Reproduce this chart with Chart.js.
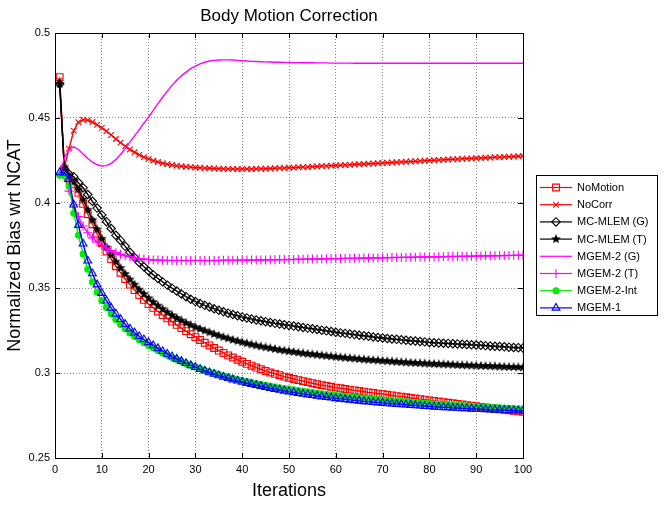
<!DOCTYPE html>
<html>
<head>
<meta charset="utf-8">
<script src="https://cdn.jsdelivr.net/npm/chart.js@4.4.1/dist/chart.umd.min.js"></script>
<style>
  html, body { margin: 0; padding: 0; background: #fff; }
  #wrap { width: 664px; height: 505px; }
</style>
</head>
<body>
<div id="wrap"><canvas id="c" width="664" height="505"></canvas></div>
<script>
// === Data ===
const iterations = [1,2,3,4,5,6,7,8,9,10,11,12,13,14,15,16,17,18,19,20,
  21,22,23,24,25,26,27,28,29,30,31,32,33,34,35,36,37,38,39,40,
  41,42,43,44,45,46,47,48,49,50,51,52,53,54,55,56,57,58,59,60,
  61,62,63,64,65,66,67,68,69,70,71,72,73,74,75,76,77,78,79,80,
  81,82,83,84,85,86,87,88,89,90,91,92,93,94,95,96,97,98,99,100];

const noMotion = [0.4740,0.4190,0.4155,0.4110,0.4060,0.3995,0.3935,0.3875,0.3820,0.3765,
  0.3715,0.3670,0.3628,0.3590,0.3553,0.3520,0.3488,0.3458,0.3430,0.3405,
  0.3383,0.3362,0.3341,0.3321,0.3302,0.3283,0.3264,0.3246,0.3228,0.3211,
  0.3194,0.3178,0.3162,0.3147,0.3132,0.3118,0.3104,0.3091,0.3078,0.3066,
  0.3054,0.3043,0.3032,0.3022,0.3012,0.3003,0.2995,0.2987,0.2979,0.2972,
  0.2965,0.2958,0.2952,0.2946,0.2940,0.2934,0.2929,0.2924,0.2919,0.2914,
  0.2910,0.2906,0.2902,0.2898,0.2894,0.2890,0.2886,0.2883,0.2879,0.2876,
  0.2872,0.2868,0.2864,0.2861,0.2857,0.2853,0.2850,0.2846,0.2843,0.2839,
  0.2836,0.2832,0.2829,0.2825,0.2822,0.2818,0.2815,0.2811,0.2808,0.2805,
  0.2801,0.2798,0.2794,0.2791,0.2787,0.2784,0.2781,0.2777,0.2774,0.2771];

const noCorr = [0.4720,0.4210,0.4320,0.4425,0.4475,0.4490,0.4487,0.4476,0.4460,0.4442,
  0.4422,0.4400,0.4377,0.4355,0.4334,0.4315,0.4298,0.4283,0.4270,0.4259,
  0.4249,0.4241,0.4234,0.4228,0.4223,0.4219,0.4216,0.4213,0.4211,0.4209,
  0.4207,0.4205,0.4204,0.4203,0.4202,0.4201,0.4200,0.4200,0.4200,0.4200,
  0.4200,0.4200,0.4201,0.4201,0.4202,0.4203,0.4204,0.4205,0.4206,0.4207,
  0.4208,0.4210,0.4211,0.4212,0.4214,0.4215,0.4217,0.4218,0.4220,0.4221,
  0.4222,0.4224,0.4225,0.4227,0.4228,0.4229,0.4231,0.4232,0.4234,0.4235,
  0.4237,0.4238,0.4240,0.4241,0.4243,0.4244,0.4246,0.4247,0.4249,0.4250,
  0.4251,0.4253,0.4254,0.4256,0.4257,0.4258,0.4260,0.4261,0.4262,0.4264,
  0.4265,0.4266,0.4267,0.4269,0.4270,0.4271,0.4272,0.4273,0.4275,0.4276];

const mcMlemG = [0.4700,0.4200,0.4170,0.4155,0.4120,0.4090,0.4050,0.4010,0.3970,0.3930,
  0.3890,0.3850,0.3810,0.3780,0.3745,0.3710,0.3680,0.3650,0.3625,0.3600,
  0.3577,0.3556,0.3536,0.3517,0.3499,0.3482,0.3465,0.3449,0.3434,0.3420,
  0.3409,0.3398,0.3388,0.3378,0.3369,0.3360,0.3352,0.3344,0.3337,0.3330,
  0.3324,0.3318,0.3312,0.3307,0.3302,0.3297,0.3292,0.3288,0.3284,0.3280,
  0.3276,0.3272,0.3268,0.3264,0.3260,0.3256,0.3252,0.3248,0.3244,0.3240,
  0.3236,0.3233,0.3229,0.3226,0.3222,0.3219,0.3216,0.3212,0.3209,0.3206,
  0.3203,0.3200,0.3198,0.3195,0.3193,0.3190,0.3188,0.3185,0.3183,0.3180,
  0.3178,0.3177,0.3175,0.3174,0.3172,0.3171,0.3169,0.3168,0.3166,0.3165,
  0.3163,0.3161,0.3159,0.3157,0.3156,0.3154,0.3152,0.3150,0.3149,0.3147];

const mcMlemT = [0.4700,0.4210,0.4160,0.4125,0.4080,0.4020,0.3960,0.3900,0.3845,0.3790,
  0.3740,0.3695,0.3655,0.3618,0.3583,0.3550,0.3520,0.3490,0.3465,0.3440,
  0.3417,0.3396,0.3376,0.3357,0.3340,0.3324,0.3309,0.3295,0.3282,0.3270,
  0.3259,0.3249,0.3239,0.3229,0.3220,0.3211,0.3203,0.3195,0.3188,0.3181,
  0.3174,0.3168,0.3162,0.3156,0.3151,0.3146,0.3141,0.3136,0.3132,0.3128,
  0.3124,0.3120,0.3116,0.3113,0.3110,0.3107,0.3104,0.3101,0.3098,0.3095,
  0.3092,0.3090,0.3087,0.3085,0.3082,0.3080,0.3078,0.3076,0.3074,0.3072,
  0.3070,0.3068,0.3066,0.3064,0.3062,0.3061,0.3059,0.3058,0.3056,0.3055,
  0.3054,0.3052,0.3051,0.3050,0.3049,0.3047,0.3046,0.3045,0.3044,0.3043,
  0.3042,0.3041,0.3040,0.3039,0.3038,0.3037,0.3036,0.3035,0.3034,0.3033];

const mgem2G = [0.4165,0.4265,0.4315,0.4330,0.4315,0.4288,0.4262,0.4240,0.4225,0.4218,
  0.4220,0.4233,0.4255,0.4285,0.4320,0.4358,0.4395,0.4432,0.4470,0.4506,
  0.4545,0.4585,0.4622,0.4658,0.4692,0.4722,0.4748,0.4770,0.4790,0.4805,
  0.4818,0.4828,0.4835,0.4839,0.4841,0.4842,0.4842,0.4841,0.4839,0.4837,
  0.4835,0.4833,0.4832,0.4831,0.4830,0.4829,0.4828,0.4828,0.4827,0.4827,
  0.4826,0.4826,0.4825,0.4825,0.4825,0.4824,0.4824,0.4824,0.4823,0.4823,
  0.4823,0.4823,0.4823,0.4822,0.4822,0.4822,0.4822,0.4822,0.4822,0.4822,
  0.4822,0.4822,0.4822,0.4822,0.4822,0.4822,0.4822,0.4822,0.4822,0.4822,
  0.4822,0.4822,0.4822,0.4822,0.4822,0.4822,0.4822,0.4822,0.4822,0.4822,
  0.4822,0.4822,0.4822,0.4822,0.4822,0.4822,0.4822,0.4822,0.4822,0.4822];

const mgem2T = [0.4165,0.4150,0.4070,0.3990,0.3920,0.3865,0.3825,0.3795,0.3770,0.3750,
  0.3734,0.3720,0.3708,0.3698,0.3690,0.3683,0.3677,0.3673,0.3670,0.3667,
  0.3665,0.3664,0.3663,0.3662,0.3662,0.3662,0.3662,0.3662,0.3662,0.3662,
  0.3662,0.3662,0.3662,0.3662,0.3662,0.3663,0.3663,0.3663,0.3663,0.3664,
  0.3664,0.3664,0.3665,0.3665,0.3665,0.3666,0.3666,0.3667,0.3667,0.3668,
  0.3668,0.3669,0.3669,0.3670,0.3670,0.3671,0.3671,0.3672,0.3672,0.3673,
  0.3673,0.3674,0.3674,0.3675,0.3675,0.3676,0.3676,0.3677,0.3677,0.3678,
  0.3678,0.3679,0.3679,0.3680,0.3680,0.3681,0.3681,0.3682,0.3682,0.3683,
  0.3683,0.3684,0.3684,0.3685,0.3685,0.3686,0.3686,0.3687,0.3687,0.3688,
  0.3688,0.3689,0.3689,0.3690,0.3690,0.3691,0.3691,0.3692,0.3692,0.3693];

const mgem2Int = [0.4165,0.4160,0.4100,0.3940,0.3810,0.3700,0.3610,0.3535,0.3475,0.3425,
  0.3385,0.3348,0.3315,0.3286,0.3260,0.3236,0.3214,0.3195,0.3178,0.3162,
  0.3147,0.3132,0.3118,0.3104,0.3091,0.3079,0.3067,0.3056,0.3045,0.3035,
  0.3025,0.3016,0.3007,0.2999,0.2991,0.2983,0.2976,0.2969,0.2962,0.2956,
  0.2950,0.2944,0.2938,0.2933,0.2928,0.2923,0.2918,0.2913,0.2909,0.2905,
  0.2901,0.2897,0.2893,0.2889,0.2885,0.2882,0.2878,0.2875,0.2872,0.2869,
  0.2866,0.2863,0.2860,0.2857,0.2854,0.2852,0.2849,0.2847,0.2844,0.2842,
  0.2839,0.2837,0.2835,0.2833,0.2830,0.2828,0.2826,0.2824,0.2822,0.2820,
  0.2818,0.2816,0.2815,0.2813,0.2811,0.2809,0.2808,0.2806,0.2804,0.2803,
  0.2801,0.2800,0.2798,0.2797,0.2795,0.2794,0.2792,0.2791,0.2790,0.2788];

const mgem1 = [0.4180,0.4178,0.4140,0.3990,0.3870,0.3760,0.3660,0.3585,0.3520,0.3470,
  0.3425,0.3383,0.3348,0.3316,0.3287,0.3260,0.3237,0.3216,0.3197,0.3180,
  0.3162,0.3145,0.3128,0.3112,0.3097,0.3083,0.3070,0.3057,0.3045,0.3034,
  0.3023,0.3013,0.3003,0.2994,0.2985,0.2977,0.2969,0.2961,0.2954,0.2947,
  0.2940,0.2934,0.2928,0.2922,0.2916,0.2910,0.2905,0.2900,0.2895,0.2890,
  0.2886,0.2881,0.2877,0.2873,0.2869,0.2865,0.2861,0.2858,0.2854,0.2851,
  0.2848,0.2845,0.2842,0.2839,0.2836,0.2833,0.2831,0.2828,0.2826,0.2824,
  0.2821,0.2819,0.2817,0.2815,0.2813,0.2811,0.2809,0.2807,0.2805,0.2803,
  0.2801,0.2800,0.2798,0.2797,0.2795,0.2794,0.2792,0.2791,0.2789,0.2788,
  0.2787,0.2786,0.2784,0.2783,0.2782,0.2781,0.2780,0.2779,0.2778,0.2777];

const xTicks = [0,10,20,30,40,50,60,70,80,90,100];
const yTicks = [0.25,0.3,0.35,0.4,0.45,0.5];
const yTickLabels = ['0.25','0.3','0.35','0.4','0.45','0.5'];

// === Markers ===
function makeStar(size, color) {
    const cv = document.createElement('canvas');
    cv.width = size; cv.height = size;
    const c = cv.getContext('2d');
    const cx = size / 2, cy = size / 2, R = size / 2, r = R * 0.45;
    c.beginPath();
    for (let i = 0; i < 10; i++) {
        const rad = (i % 2 === 0) ? R : r;
        const a = -Math.PI / 2 + i * Math.PI / 5;
        const px = cx + rad * Math.cos(a), py = cy + rad * Math.sin(a);
        if (i === 0) c.moveTo(px, py); else c.lineTo(px, py);
    }
    c.closePath();
    c.fillStyle = color;
    c.fill();
    return cv;
}
const starImg = makeStar(10, '#000');

const series = [
    { label: 'NoMotion',     data: noMotion, color: '#ff0000', style: 'rect',      radius: 4.8, fill: 'rgba(0,0,0,0)' },
    { label: 'NoCorr',       data: noCorr,   color: '#ff0000', style: 'crossRot',  radius: 4,   fill: 'rgba(0,0,0,0)' },
    { label: 'MC-MLEM (G)',  data: mcMlemG,  color: '#000000', style: 'rectRot',   radius: 4.2, fill: 'rgba(0,0,0,0)' },
    { label: 'MC-MLEM (T)',  data: mcMlemT,  color: '#000000', style: starImg,     radius: 4,   fill: '#000' },
    { label: 'MGEM-2 (G)',   data: mgem2G,   color: '#ff00ff', style: false,       radius: 0,   fill: 'rgba(0,0,0,0)' },
    { label: 'MGEM-2 (T)',   data: mgem2T,   color: '#ff00ff', style: 'cross',     radius: 4.5, fill: 'rgba(0,0,0,0)' },
    { label: 'MGEM-2-Int',   data: mgem2Int, color: '#00ee00', style: 'circle',    radius: 3,   fill: '#00ee00' },
    { label: 'MGEM-1',       data: mgem1,    color: '#0000ff', style: 'triangle',  radius: 4.5, fill: 'rgba(0,0,0,0)' }
];

const datasets = series.map((s, i) => ({
    label: s.label,
    data: iterations.map((it, k) => ({ x: it, y: s.data[k] })),
    borderColor: s.color,
    backgroundColor: s.fill,
    borderWidth: 1.4,
    pointStyle: s.style || 'circle',
    pointRadius: s.radius,
    pointBorderColor: s.color,
    pointBackgroundColor: s.fill,
    pointBorderWidth: 1.1,
    tension: 0,
    order: series.length - i
}));

const FONT = 'Liberation Sans, Arial, Helvetica, sans-serif';

// frame, inward ticks, title, axis titles and the boxed legend
const decorations = {
    id: 'decorations',
    afterDatasetsDraw(chart) {
        const { ctx, chartArea: a, scales } = chart;
        ctx.save();
        ctx.strokeStyle = '#000';
        ctx.lineWidth = 1;
        ctx.strokeRect(Math.round(a.left) + 0.5, Math.round(a.top) + 0.5,
            Math.round(a.right - a.left), Math.round(a.bottom - a.top));
        ctx.beginPath();
        xTicks.forEach(t => {
            const x = Math.round(scales.x.getPixelForValue(t)) + 0.5;
            ctx.moveTo(x, a.bottom); ctx.lineTo(x, a.bottom - 5);
            ctx.moveTo(x, a.top); ctx.lineTo(x, a.top + 5);
        });
        yTicks.forEach(t => {
            const y = Math.round(scales.y.getPixelForValue(t)) + 0.5;
            ctx.moveTo(a.left, y); ctx.lineTo(a.left + 5, y);
            ctx.moveTo(a.right, y); ctx.lineTo(a.right - 5, y);
        });
        ctx.stroke();
        ctx.restore();
    },
    afterDraw(chart) {
        const { ctx, chartArea: a } = chart;
        ctx.save();
        ctx.fillStyle = '#000';
        ctx.textAlign = 'center';
        ctx.textBaseline = 'middle';
        ctx.font = '17px ' + FONT;
        ctx.fillText('Body Motion Correction', (a.left + a.right) / 2, 16);
        ctx.font = '18px ' + FONT;
        ctx.fillText('Iterations', (a.left + a.right) / 2, 491);
        ctx.translate(15, (a.top + a.bottom) / 2);
        ctx.rotate(-Math.PI / 2);
        ctx.fillText('Normalized Bias wrt NCAT', 0, 0);
        ctx.restore();

        // legend
        ctx.save();
        const lx = 536, ly = 175, lw = 121, lh = 140;
        ctx.fillStyle = '#fff';
        ctx.fillRect(lx, ly, lw, lh);
        ctx.strokeStyle = '#000';
        ctx.lineWidth = 1;
        ctx.strokeRect(lx + 0.5, ly + 0.5, lw, lh);
        ctx.font = '11px ' + FONT;
        ctx.textAlign = 'left';
        ctx.textBaseline = 'middle';
        series.forEach((s, i) => {
            const y = ly + 12 + i * 17.2;
            ctx.strokeStyle = s.color;
            ctx.lineWidth = 1.2;
            ctx.beginPath();
            ctx.moveTo(540, y + 0.5); ctx.lineTo(572, y + 0.5);
            ctx.stroke();
            if (s.style) {
                ctx.fillStyle = s.fill;
                ctx.lineWidth = 1.1;
                Chart.helpers.drawPoint(ctx, {
                    pointStyle: s.style, radius: s.radius, rotation: 0, borderWidth: 1.1
                }, 556, y + 0.5);
            }
            ctx.fillStyle = '#000';
            ctx.fillText(s.label, 577, y + 1);
        });
        ctx.restore();
    }
};

new Chart(document.getElementById('c').getContext('2d'), {
    type: 'line',
    data: { datasets },
    options: {
        responsive: false,
        animation: false,
        devicePixelRatio: 1,
        layout: { padding: { top: 33, right: 141, left: 0, bottom: 0 } },
        plugins: { legend: { display: false }, tooltip: { enabled: false }, title: { display: false } },
        scales: {
            x: {
                type: 'linear', min: 0, max: 100,
                afterFit: s => { s.height = 47; },
                afterBuildTicks: s => { s.ticks = xTicks.map(v => ({ value: v })); },
                grid: { color: 'rgba(0,0,0,0.45)', lineWidth: 1, drawTicks: false },
                border: { display: false, dash: [1, 2] },
                ticks: { color: '#000', font: { family: FONT, size: 11 }, padding: 5, maxRotation: 0 }
            },
            y: {
                type: 'linear', min: 0.25, max: 0.5,
                afterFit: s => { s.width = 55; },
                afterBuildTicks: s => { s.ticks = yTicks.map(v => ({ value: v })); },
                grid: { color: 'rgba(0,0,0,0.45)', lineWidth: 1, drawTicks: false },
                border: { display: false, dash: [1, 2] },
                ticks: {
                    color: '#000', font: { family: FONT, size: 11 }, padding: 5,
                    callback: (v) => yTickLabels[yTicks.findIndex(t => Math.abs(t - v) < 1e-9)]
                }
            }
        }
    },
    plugins: [decorations]
});
</script>
</body>
</html>
